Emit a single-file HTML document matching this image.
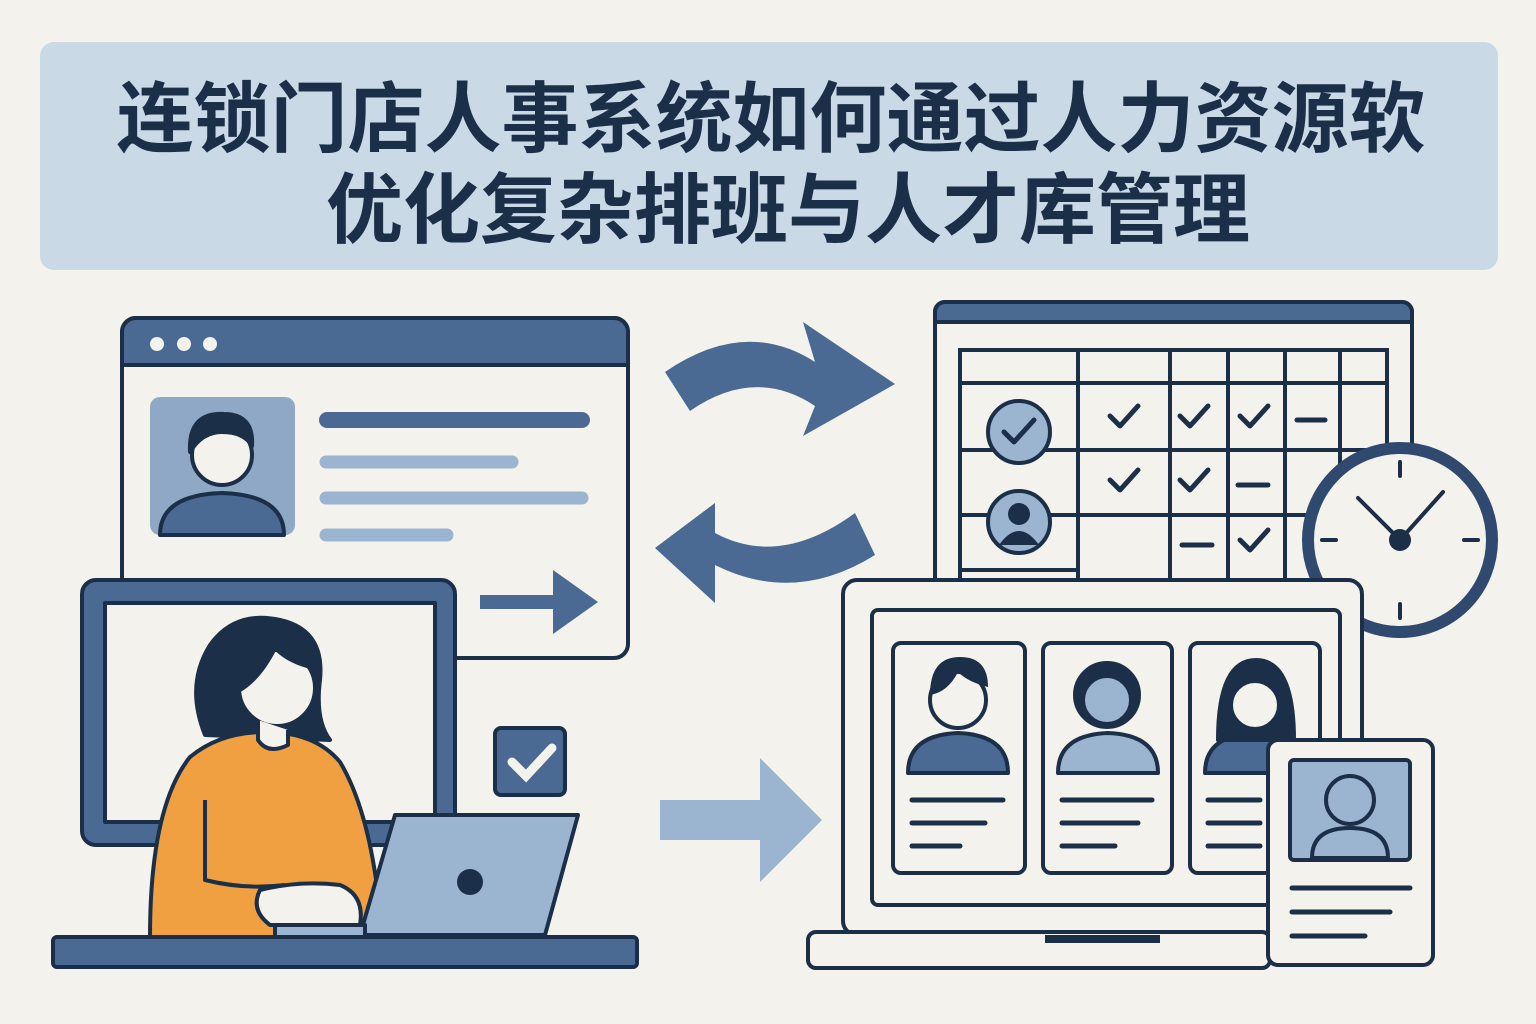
<!DOCTYPE html>
<html><head><meta charset="utf-8"><style>
html,body{margin:0;padding:0;background:#f4f2ec;}
svg{display:block}
</style></head><body>
<svg width="1536" height="1024" viewBox="0 0 1536 1024" xmlns="http://www.w3.org/2000/svg">
<rect width="1536" height="1024" fill="#f4f2ec"/>
<rect x="40" y="42" width="1458" height="228" rx="14" fill="#c9d9e6"/>
<g font-family="'Liberation Sans','Noto Sans CJK SC',sans-serif" font-weight="bold" fill="#1c2f48" text-anchor="middle">
<text x="771" y="146" font-size="77">连锁门店人事系统如何通过人力资源软</text>
<text x="788" y="237" font-size="77">优化复杂排班与人才库管理</text>
</g>
<g stroke="#1c2f48" stroke-width="4" stroke-linejoin="round" stroke-linecap="round">
<rect x="122" y="318" width="506" height="340" rx="14" fill="#f4f2ec"/>
<path d="M122 365 V332 a14 14 0 0 1 14 -14 H614 a14 14 0 0 1 14 14 V365 Z" fill="#4a6a93"/>
<rect x="150" y="397" width="145" height="138" rx="10" fill="#8ea8c6" stroke="none"/>
<path d="M160 535 q0 -40 62 -42 q62 2 62 42 Z" fill="#4a6a93"/>
<circle cx="222" cy="455" r="30" fill="#f4f2ec"/>
<path d="M190 452 q-2 -40 34 -38 q30 0 28 32 q-8 -14 -30 -14 q-20 0 -32 20Z" fill="#1c2f48"/>
</g>
<g fill="#f4f2ec"><circle cx="157" cy="344" r="7"/><circle cx="184" cy="344" r="7"/><circle cx="210" cy="344" r="7"/></g>
<g stroke-linecap="round">
<line x1="327" y1="420" x2="582" y2="420" stroke="#4a6a93" stroke-width="16"/>
<line x1="326" y1="462" x2="512" y2="462" stroke="#9bb4d0" stroke-width="13"/>
<line x1="326" y1="498" x2="582" y2="498" stroke="#9bb4d0" stroke-width="13"/>
<line x1="326" y1="535" x2="447" y2="535" stroke="#9bb4d0" stroke-width="13"/>
</g>
<line x1="480" y1="602" x2="560" y2="602" stroke="#4a6a93" stroke-width="14"/>
<polygon points="553,570 598,602 553,634" fill="#4a6a93"/>
<g stroke="#1c2f48" stroke-width="4" stroke-linejoin="round">
<rect x="82" y="580" width="373" height="265" rx="14" fill="#4a6a93"/>
<rect x="105" y="603" width="330" height="219" fill="#f4f2ec"/>
<rect x="53" y="937" width="584" height="30" rx="4" fill="#4a6a93"/>
<path d="M205 735 q-20 -50 5 -90 q25 -35 70 -25 q45 10 40 60 q-5 40 10 60 Z" fill="#1c2f48"/>
<path d="M150 937 q0 -130 40 -180 q30 -25 75 -25 q50 0 75 30 q30 50 40 150 l-20 25 Z" fill="#f0a040"/>
<circle cx="277" cy="688" r="38" fill="#f4f2ec"/>
<path d="M240 690 q0 -50 40 -52 q30 0 35 30 q-25 -5 -40 -20 q-15 30 -35 42Z" fill="#1c2f48"/>
<path d="M258 720 v20 q10 15 30 5 v-15" fill="#f4f2ec"/>
<path d="M205 800 v80 q40 10 80 5" fill="none"/>
<path d="M260 890 q40 -10 80 -5 q25 10 20 40 h-90 q-20 -15 -10 -35Z" fill="#f4f2ec"/>
<polygon points="395,815 578,815 545,935 360,935" fill="#9bb4d0"/>
<rect x="275" y="925" width="90" height="12" fill="#9bb4d0"/>
<rect x="495" y="728" width="70" height="67" rx="6" fill="#4a6a93"/>
</g>
<circle cx="470" cy="882" r="13" fill="#1c2f48"/>
<path d="M512 762 l14 14 l26 -28" stroke="#f4f2ec" stroke-width="9" fill="none" stroke-linecap="round"/>
<path d="M665 372 q80 -55 150 -10 l-12 -40 l92 62 l-92 52 l12 -30 q-60 -40 -125 5 Z" fill="#4a6a93"/>
<path d="M875 555 q-80 50 -160 10 l0 38 l-60 -55 l60 -45 l0 30 q65 35 140 -20 Z" fill="#4a6a93"/>
<path d="M660 800 h100 v-42 l62 62 l-62 62 v-42 h-100 Z" fill="#9bb4d0"/>
<g stroke="#1c2f48" stroke-width="4" fill="none">
<rect x="935" y="302" width="477" height="290" rx="10" fill="#f4f2ec"/>
<path d="M935 322 v-10 a10 10 0 0 1 10 -10 h457 a10 10 0 0 1 10 10 v10 Z" fill="#4a6a93"/>
<rect x="960" y="350" width="427" height="235"/>
<line x1="1078" y1="350" x2="1078" y2="585"/><line x1="1170" y1="350" x2="1170" y2="585"/>
<line x1="1228" y1="350" x2="1228" y2="585"/><line x1="1285" y1="350" x2="1285" y2="585"/>
<line x1="1340" y1="350" x2="1340" y2="585"/>
<line x1="960" y1="383" x2="1387" y2="383"/><line x1="960" y1="450" x2="1387" y2="450"/>
<line x1="960" y1="515" x2="1387" y2="515"/><line x1="960" y1="570" x2="1078" y2="570"/>
<circle cx="1019" cy="432" r="31" fill="#9bb4d0"/>
<circle cx="1019" cy="522" r="31" fill="#9bb4d0"/>
</g>
<g stroke="#1c2f48" stroke-width="5" fill="none" stroke-linecap="round" stroke-linejoin="round">
<path d="M1004 432 l10 10 l20 -22"/>
<path d="M1110 416 l10 10 l18 -20"/><path d="M1180 416 l10 10 l18 -20"/><path d="M1240 416 l10 10 l18 -20"/>
<line x1="1297" y1="420" x2="1325" y2="420"/>
<path d="M1110 480 l10 10 l18 -20"/><path d="M1180 480 l10 10 l18 -20"/>
<line x1="1238" y1="485" x2="1268" y2="485"/>
<line x1="1182" y1="545" x2="1212" y2="545"/><path d="M1240 540 l10 10 l18 -20"/>
</g>
<circle cx="1019" cy="514" r="11" fill="#1c2f48"/><path d="M999 545 q20 -28 40 0Z" fill="#1c2f48"/>
<circle cx="1400" cy="540" r="92" fill="#f4f2ec" stroke="#2f4a6e" stroke-width="12"/>
<g stroke="#1c2f48" stroke-width="4" stroke-linecap="round">
<line x1="1400" y1="462" x2="1400" y2="476"/><line x1="1400" y1="604" x2="1400" y2="618"/>
<line x1="1322" y1="540" x2="1336" y2="540"/><line x1="1464" y1="540" x2="1478" y2="540"/>
<line x1="1400" y1="540" x2="1358" y2="498"/><line x1="1400" y1="540" x2="1443" y2="492"/>
</g>
<circle cx="1400" cy="540" r="11" fill="#1c2f48"/>
<g stroke="#1c2f48" stroke-width="4" stroke-linejoin="round">
<rect x="843" y="580" width="519" height="355" rx="14" fill="#f4f2ec"/>
<rect x="872" y="610" width="468" height="295" rx="6" fill="#f4f2ec"/>
<rect x="808" y="932" width="462" height="36" rx="8" fill="#f4f2ec"/>
<rect x="893" y="643" width="132" height="230" rx="8" fill="#f4f2ec"/>
<rect x="1043" y="643" width="129" height="230" rx="8" fill="#f4f2ec"/>
<rect x="1190" y="643" width="130" height="230" rx="8" fill="#f4f2ec"/>
<path d="M908 773 q0 -38 50 -40 q50 2 50 40Z" fill="#4a6a93"/>
<circle cx="958" cy="700" r="28" fill="#f4f2ec"/>
<path d="M1058 773 q0 -38 50 -40 q50 2 50 40Z" fill="#9bb4d0"/>
<circle cx="1107" cy="695" r="32" fill="#1c2f48"/><circle cx="1107" cy="700" r="24" fill="#9bb4d0"/>
<path d="M1205 773 q0 -38 50 -40 q50 2 50 40Z" fill="#4a6a93"/>
<path d="M1218 740 q0 -80 38 -80 q38 0 38 80Z" fill="#1c2f48"/>
<circle cx="1255" cy="705" r="24" fill="#f4f2ec"/>
<rect x="1268" y="740" width="165" height="225" rx="10" fill="#f4f2ec"/>
<rect x="1290" y="760" width="120" height="100" rx="4" fill="#9bb4d0"/>
<circle cx="1350" cy="800" r="24" fill="#9bb4d0"/><path d="M1312 858 q0 -30 38 -30 q38 0 38 30Z" fill="#9bb4d0"/>
</g>
<path d="M930 695 q0 -38 30 -38 q28 0 28 30 q-20 -5 -30 -15 q-10 20 -28 23Z" fill="#1c2f48"/>
<rect x="1045" y="935" width="115" height="8" fill="#1c2f48"/>
<g stroke="#1c2f48" stroke-width="5" stroke-linecap="round">
<line x1="912" y1="800" x2="1003" y2="800"/><line x1="912" y1="823" x2="985" y2="823"/><line x1="912" y1="846" x2="960" y2="846"/>
<line x1="1062" y1="800" x2="1152" y2="800"/><line x1="1062" y1="823" x2="1138" y2="823"/><line x1="1062" y1="846" x2="1115" y2="846"/>
<line x1="1208" y1="800" x2="1260" y2="800"/><line x1="1208" y1="823" x2="1260" y2="823"/><line x1="1208" y1="846" x2="1260" y2="846"/>
<line x1="1292" y1="888" x2="1410" y2="888"/><line x1="1292" y1="912" x2="1390" y2="912"/><line x1="1292" y1="936" x2="1365" y2="936"/>
</g>
</svg>
</body></html>
